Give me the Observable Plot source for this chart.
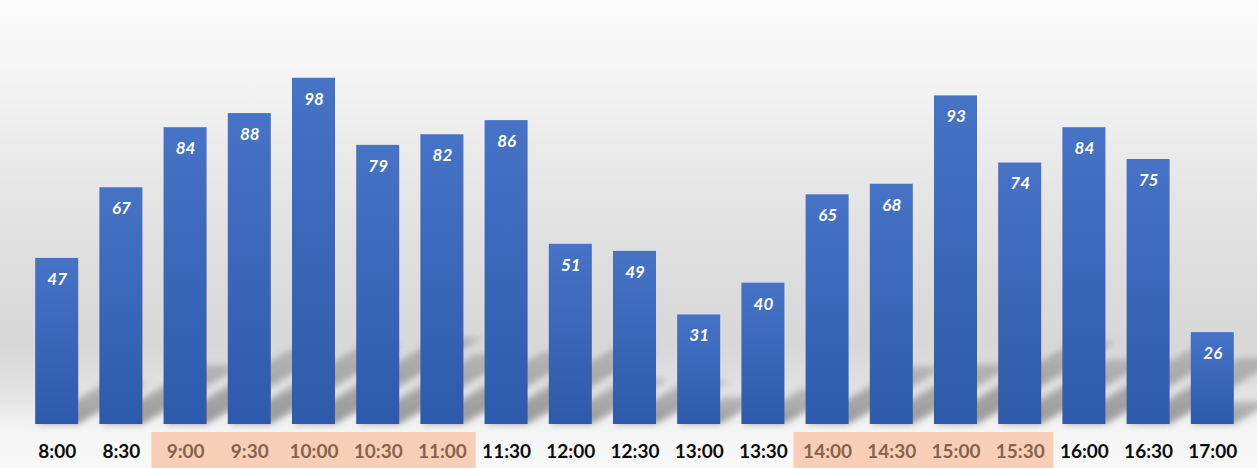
<!DOCTYPE html>
<html>
<head>
<meta charset="utf-8">
<script src="https://cdn.jsdelivr.net/npm/d3@7"></script>
<script src="https://cdn.jsdelivr.net/npm/@observablehq/plot@0.6"></script>
<style>
  html, body { margin: 0; padding: 0; background: #ffffff; }
</style>
</head>
<body>
<div id="chart"></div>
<script>
// Half-hour time slots and the count recorded in each
const slots = ["8:00", "8:30", "9:00", "9:30", "10:00", "10:30", "11:00", "11:30", "12:00", "12:30",
               "13:00", "13:30", "14:00", "14:30", "15:00", "15:30", "16:00", "16:30", "17:00"];
const counts = [47, 67, 84, 88, 98, 79, 82, 86, 51, 49, 31, 40, 65, 68, 93, 74, 84, 75, 26];

// Busy periods whose labels get a shaded band
const morningPeak = ["9:00", "9:30", "10:00", "10:30", "11:00"];
const afternoonPeak = ["14:00", "14:30", "15:00", "15:30"];
const peakSlots = morningPeak.concat(afternoonPeak);
const quietSlots = slots.filter(s => !peakSlots.includes(s));

const data = slots.map((slot, i) => ({slot, count: counts[i]}));

const width = 1257, height = 468;
const marginLeft = 14, marginRight = 2, marginBottom = 44;
const padding = 0.33;
const step = (width - marginLeft - marginRight) / (slots.length - padding + 2 * padding);
const gapHalf = step * padding / 2 + 1.6;

const font = "Lato, 'Open Sans', 'DejaVu Sans', sans-serif";

// Gradients and blur filter shared by the marks
const defs = () => {
  const d = d3.create("svg:defs");
  const g = d.append("linearGradient").attr("id", "bar-fill")
    .attr("x1", 0).attr("y1", 0).attr("x2", 0).attr("y2", 1);
  g.append("stop").attr("offset", "0%").attr("stop-color", "#4673c6");
  g.append("stop").attr("offset", "100%").attr("stop-color", "#2e5aab");
  const s = d.append("linearGradient").attr("id", "shadow-fill")
    .attr("x1", 0).attr("y1", 1).attr("x2", 0).attr("y2", 0);
  s.append("stop").attr("offset", "0%").attr("stop-color", "#5f5f5f").attr("stop-opacity", 0.6);
  s.append("stop").attr("offset", "100%").attr("stop-color", "#7a7a7a").attr("stop-opacity", 0.4);
  d.append("filter").attr("id", "soft").attr("x", "-20%").attr("y", "-20%")
    .attr("width", "140%").attr("height", "140%")
    .append("feGaussianBlur").attr("stdDeviation", 3);
  return d.node();
};

// Turns each bar rect into a slanted cast shadow lying behind it
function castShadow(index, scales, values, dims, context, next) {
  const g = next(index, scales, values, dims, context);
  d3.select(g).attr("filter", "url(#soft)");
  d3.select(g).selectAll("rect").each(function () {
    const r = d3.select(this);
    const x = +r.attr("x"), y = +r.attr("y"), w = +r.attr("width"), h = +r.attr("height");
    const base = y + h, rise = 0.25 * h, run = 1.7 * rise;
    d3.select(g).append("path")
      .attr("d", `M${x},${base}L${x + w},${base}L${x + w + run},${base - rise}L${x + run},${base - rise}Z`)
      .attr("fill", "url(#shadow-fill)");
    r.remove();
  });
  return g;
}

// Moves the highlight bands down into the label strip
function labelBand(index, scales, values, dims, context, next) {
  const g = next(index, scales, values, dims, context);
  d3.select(g).selectAll("rect")
    .attr("y", dims.height - dims.marginBottom + 8)
    .attr("height", dims.marginBottom - 8);
  return g;
}

const chart = Plot.plot({
  width, height,
  marginTop: 0, marginLeft, marginRight, marginBottom,
  style: {
    fontFamily: font,
    background: "linear-gradient(to bottom, #fafafa 0%, #f6f6f6 14%, #eeeeee 26%, #e5e5e5 42%, #dcdcdc 60%, #d8d8d8 74%, #e1e1e1 83%, #eeeeee 89%, #f3f3f3 90.6%, #f6f6f6 93%, #f8f8f8 100%)"
  },
  x: {domain: slots, padding, round: false, axis: null},
  y: {domain: [0, 120], axis: null},
  marks: [
    defs,
    Plot.barY(peakSlots, {x: d => d, y1: 0, y2: 0, fill: "#f8cfb6",
      insetLeft: -gapHalf, insetRight: -gapHalf, render: labelBand}),
    Plot.barY(data, {x: "slot", y: "count", fill: "#777", render: castShadow}),
    Plot.barY(data, {x: "slot", y: "count", fill: "url(#bar-fill)"}),
    Plot.text(data, {x: "slot", y: "count", text: d => String(d.count), dy: 21,
      fill: "white", fontSize: 17, fontWeight: "bold", fontStyle: "italic"}),
    Plot.axisX(quietSlots, {tickSize: 0, tickPadding: 20, fontSize: 19, fontWeight: "bold",
      fill: "#0d0d0d", label: null}),
    Plot.axisX(peakSlots, {tickSize: 0, tickPadding: 20, fontSize: 19, fontWeight: "bold",
      fill: "#85634f", label: null})
  ]
});

document.getElementById("chart").appendChild(chart);
</script>
</body>
</html>
